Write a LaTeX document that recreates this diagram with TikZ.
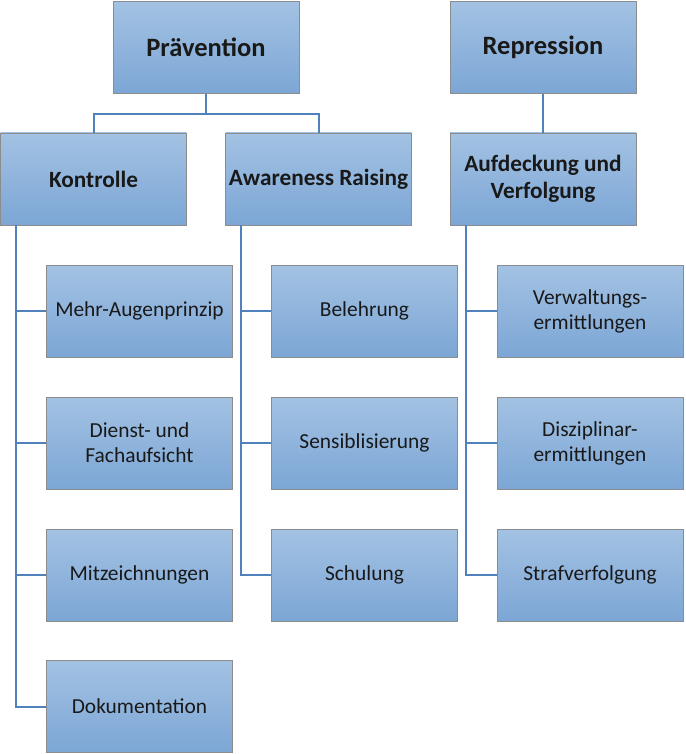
\documentclass[tikz,border=0pt]{standalone}
\usepackage{fontspec}
\setmainfont{Carlito}
\usepackage{xcolor}
\definecolor{boxtop}{HTML}{A3C2E3}
\definecolor{boxbot}{HTML}{7CA6D5}
\definecolor{boxline}{HTML}{8C8C8C}
\definecolor{linkblue}{HTML}{4F81BD}
\usetikzlibrary{positioning,calc}

\begin{document}
\begin{tikzpicture}[x=1pt, y=-1pt,
      box/.style={draw=boxline, line width=0.8pt, top color=boxtop, bottom color=boxbot, align=center, minimum width=186pt, minimum height=92pt, inner sep=1pt, text=black!90},
      head/.style={box, font=\fontsize{26.5}{31}\selectfont\bfseries},
      sub/.style={box, font=\fontsize{23.3}{27.5}\selectfont\bfseries},
      leaf/.style={box, font=\fontsize{21.4}{25}\selectfont},
      conn/.style={draw=linkblue, line width=2pt}
    ]
    \useasboundingbox (0,0) rectangle (685,754);
    % top level
    \node[head] (praev) at (206,47.5) {Prävention};
    \node[head] (repr) at (543,47.5) {Repression};
    % second level
    \node[sub] (kontr) at (93.5,179) {Kontrolle};
    \node[sub] (aware) at (318.5,179) {Awareness Raising};
    \node[sub] (aufd) at (543,179) {Aufdeckung und\\Verfolgung};
    % leaves
    \node[leaf] (k1) at (139.5,311) {Mehr-Augenprinzip};
    \node[leaf] (k2) at (139.5,443) {Dienst- und\\Fachaufsicht};
    \node[leaf] (k3) at (139.5,575) {Mitzeichnungen};
    \node[leaf] (k4) at (139.5,706.5) {Dokumentation};
    \node[leaf] (a1) at (364.5,311) {Belehrung};
    \node[leaf] (a2) at (364.5,443) {Sensiblisierung};
    \node[leaf] (a3) at (364.5,575) {Schulung};
    \node[leaf] (r1) at (590,311) {Verwaltungs-\\ermittlungen};
    \node[leaf] (r2) at (590,443) {Disziplinar-\\ermittlungen};
    \node[leaf] (r3) at (590,575) {Strafverfolgung};
    % connectors
    \foreach \c in {kontr,aware} { \draw[conn] (praev.south) -- ++(0,20) -| (\c.north); }
    \draw[conn] (repr) -- (aufd);
    \foreach \p/\c in {kontr/k1,kontr/k2,kontr/k3,kontr/k4,aware/a1,aware/a2,aware/a3,aufd/r1,aufd/r2,aufd/r3} { \draw[conn] ([xshift=16pt]\p.south west) |- (\c.west); }
  \end{tikzpicture}
\end{document}
